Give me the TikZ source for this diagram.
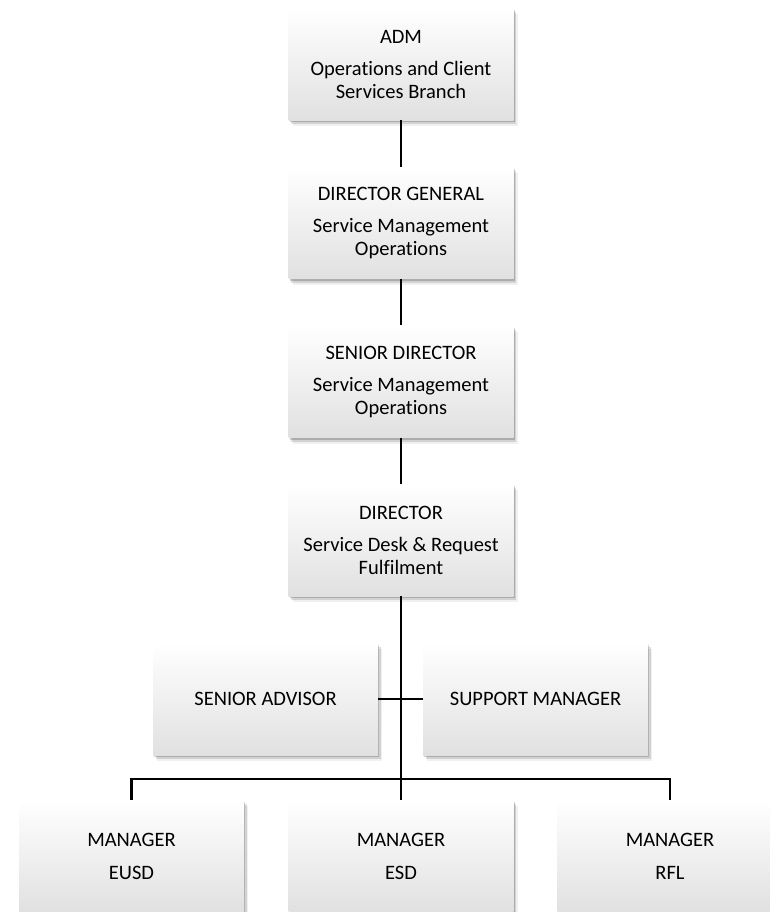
\documentclass[tikz,border=0pt]{standalone}
\usepackage{fontspec}
\setmainfont{Carlito}[Ligatures=NoCommon]
\usetikzlibrary{shadows}
\tikzset{
  orgbox/.style={anchor=north, minimum width=225pt, minimum height=112pt,
    align=center, inner sep=2pt,
    top color=white, middle color=white!98!black, bottom color=black!12,
    font=\fontsize{20.5}{22.5}\selectfont,
    general shadow={shadow xshift=1pt, shadow yshift=-2pt, fill=black, opacity=0.18},
    general shadow={shadow xshift=2.5pt, shadow yshift=-4pt, fill=black, opacity=0.12},
    general shadow={shadow xshift=4pt, shadow yshift=-6pt, fill=black, opacity=0.06}},
  link/.style={line width=2.4pt, black}
}
\begin{document}
\begin{tikzpicture}[x=1pt,y=-1pt]
\useasboundingbox (0,0) rectangle (770,912);
\fill[white] (0,0) rectangle (770,912);
\node[orgbox] (adm) at (401,8) {ADM\\[10pt]Operations and Client\\Services Branch};
\node[orgbox] (dg) at (401,166.7) {DIRECTOR GENERAL\\[10pt]Service Management\\Operations};
\node[orgbox] (sd) at (401,325.3) {SENIOR DIRECTOR\\[10pt]Service Management\\Operations};
\node[orgbox] (dir) at (401,484) {DIRECTOR\\[10pt]Service Desk \& Request\\Fulfilment};
\node[orgbox] (sa) at (265.5,643) {SENIOR ADVISOR};
\node[orgbox] (sm) at (535.5,643) {SUPPORT MANAGER};
\node[orgbox] (m1) at (131.5,800) {MANAGER\\[11pt]EUSD};
\node[orgbox] (m2) at (401,800) {MANAGER\\[11pt]ESD};
\node[orgbox] (m3) at (670,800) {MANAGER\\[11pt]RFL};
\coordinate (jb) at (401,779);
\draw[link] (adm.south) -- (dg.north);
\draw[link] (dg.south) -- (sd.north);
\draw[link] (sd.south) -- (dir.north);
\draw[link] (dir.south) -- (jb);
\draw[link] (sa.east) -- (sm.west);
\draw[link] (m1.north) |- (jb) -| (m3.north);
\draw[link] (jb) -- (m2.north);
\end{tikzpicture}
\end{document}
